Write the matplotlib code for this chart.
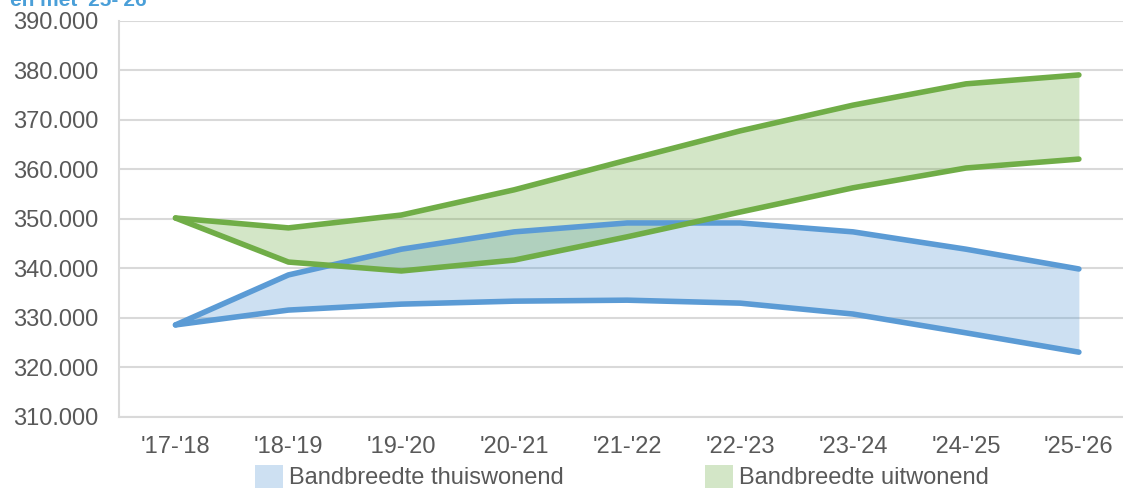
import numpy as np
import matplotlib
matplotlib.use("Agg")
import matplotlib.pyplot as plt
from matplotlib.patches import Patch

plt.rcParams['font.family'] = ['Liberation Sans', 'DejaVu Sans']

# school years
years = ["'17-'18", "'18-'19", "'19-'20", "'20-'21", "'21-'22",
         "'22-'23", "'23-'24", "'24-'25", "'25-'26"]

# bandwidth living at home (thuiswonend), in thousands
thuis_hoog = [328.6, 338.7, 343.9, 347.4, 349.2, 349.2, 347.4, 343.9, 339.9]
thuis_laag = [328.6, 331.6, 332.8, 333.4, 333.6, 333.0, 330.8, 327.0, 323.1]

# bandwidth living away from home (uitwonend), in thousands
uit_hoog = [350.2, 348.2, 350.8, 355.9, 361.9, 367.8, 373.0, 377.3, 379.1]
uit_laag = [350.2, 341.3, 339.5, 341.7, 346.4, 351.4, 356.3, 360.3, 362.1]

yticks = [310, 320, 330, 340, 350, 360, 370, 380, 390]

blue = '#5b9bd5'
green = '#70ad47'
grid_col = '#d9d9d9'
text_col = '#595959'

fig = plt.figure(figsize=(11.23, 4.88), dpi=100)
ax = fig.add_axes([0.106, 0.1455, 0.905, 0.8115])

x = np.arange(len(years))

ax.fill_between(x, thuis_laag, thuis_hoog, color=blue, alpha=0.3, lw=0, zorder=2)
ax.fill_between(x, uit_laag, uit_hoog, color=green, alpha=0.3, lw=0, zorder=3)

kw = dict(lw=4, solid_capstyle='round', solid_joinstyle='round')
ax.plot(x, thuis_hoog, color=blue, zorder=4, **kw)
ax.plot(x, thuis_laag, color=blue, zorder=4, **kw)
ax.plot(x, uit_hoog, color=green, zorder=5, **kw)
ax.plot(x, uit_laag, color=green, zorder=5, **kw)

ax.set_xlim(-0.5, len(years) - 0.5)
ax.set_ylim(310, 390)
ax.set_yticks(yticks)
ax.set_yticklabels(['{:.3f}'.format(v) for v in yticks])
ax.set_xticks(x)
ax.set_xticklabels(years)

ax.grid(axis='y', color=grid_col, lw=1.5, zorder=1)
ax.set_axisbelow(True)
for side in ['top', 'right']:
    ax.spines[side].set_visible(False)
for side in ['left', 'bottom']:
    ax.spines[side].set_color(grid_col)
    ax.spines[side].set_linewidth(1.5)
ax.tick_params(length=0, colors=text_col, labelsize=17)
ax.tick_params(axis='x', pad=14)
ax.tick_params(axis='y', pad=15)

# cut-off title at the very top
fig.text(0.009, 1.0, "en met '25-'26", color='#4a9fd8', fontsize=15,
         fontweight='bold', ha='left', va='center')

handles = [Patch(facecolor=blue, alpha=0.3, edgecolor='none'),
           Patch(facecolor=green, alpha=0.3, edgecolor='none')]
fig.legend(handles, ['Bandbreedte thuiswonend', 'Bandbreedte uitwonend'],
           loc='center left', bbox_to_anchor=(0.2229, 0.0225), ncol=2,
           frameon=False, fontsize=17, labelcolor=text_col,
           handlelength=1.19, handleheight=1.1, handletextpad=0.25,
           columnspacing=5.97, borderpad=0.2, borderaxespad=0)

fig.savefig('out.png', dpi=100)
